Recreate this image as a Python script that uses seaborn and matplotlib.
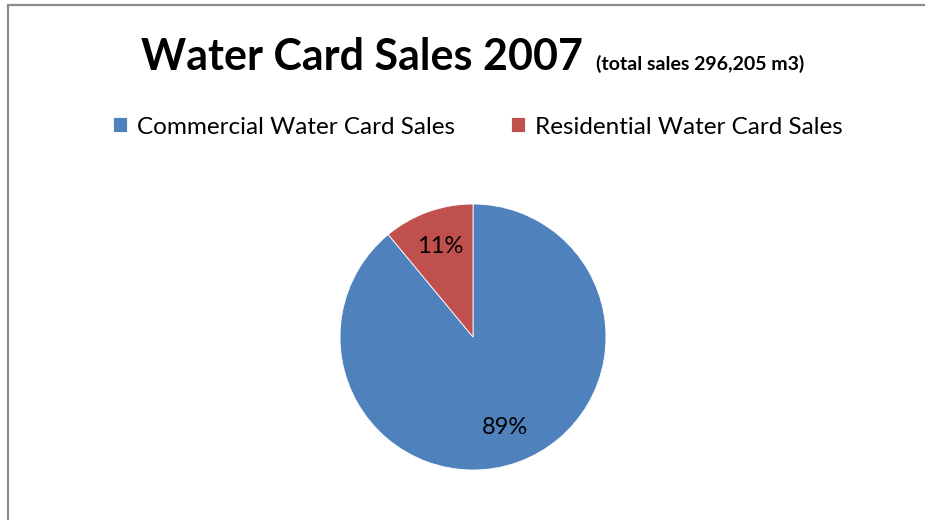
import matplotlib
matplotlib.use("Agg")
import matplotlib.pyplot as plt
from matplotlib.lines import Line2D
import seaborn as sns

# Sales split by card type (share of total volume, %)
categories = ["Commercial Water Card Sales", "Residential Water Card Sales"]
shares = [89, 11]
colors = ["#4F81BD", "#C0504D"]
title_main = "Water Card Sales 2007"
title_note = "(total sales 296,205 m3)"

sns.set_theme(style="white")
plt.rcParams["font.family"] = ["Lato", "DejaVu Sans"]
plt.rcParams["text.color"] = "black"

W, H = 925, 520
fig = plt.figure(figsize=(W / 100, H / 100), dpi=100)
fig.patch.set_facecolor("white")

def fx(px):
    return px / W

def fy(py):
    return 1 - py / H

# pie: centre (473, 337) px, radius 133 px
cx, cy, r = 473, 337, 133
ax = fig.add_axes([fx(cx - r), fy(cy + r), 2 * r / W, 2 * r / H])
wedges, texts, autotexts = ax.pie(
    shares,
    colors=sns.color_palette(colors),
    startangle=90,
    counterclock=False,
    autopct="%.0f%%",
    pctdistance=0.72,
    wedgeprops=dict(linewidth=0.6, edgecolor="white"),
    textprops=dict(fontsize=17, color="black"),
)
ax.set_xlim(-1, 1)
ax.set_ylim(-1, 1)
ax.set_aspect("equal")
ax.axis("off")

# title
fig.text(fx(141), fy(70), title_main, fontsize=31, fontweight="bold",
         ha="left", va="baseline", color="black")
fig.text(fx(596), fy(70), title_note, fontsize=14, fontweight="bold",
         ha="left", va="baseline", color="black")

# legend
leg = fig.legend(wedges, categories, loc="center", bbox_to_anchor=(fx(478), fy(127)),
                 ncol=2, frameon=False, fontsize=17.5, handlelength=0.58,
                 handleheight=0.58, handletextpad=0.4, columnspacing=2.3,
                 borderpad=0, borderaxespad=0)
for t in leg.get_texts():
    t.set_color("black")

# chart frame (left and top edges)
fig.add_artist(Line2D([fx(7.5), fx(7.5)], [fy(4.5), 0], transform=fig.transFigure,
                      color="#8c8c8c", linewidth=1.6))
fig.add_artist(Line2D([fx(7.5), 1], [fy(4.5), fy(4.5)], transform=fig.transFigure,
                      color="#8c8c8c", linewidth=1.6))

fig.savefig("out.png", dpi=100)
